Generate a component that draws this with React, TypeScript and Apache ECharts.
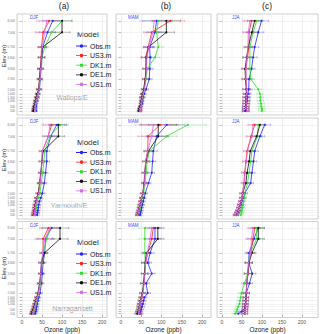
import React, { useEffect, useRef } from 'react';
import * as echarts from 'echarts';

// Elevation levels (m) of the profile points / y ticks
const levels = [8000, 7000, 5700, 4800, 3800, 2900, 2000, 1600, 1300, 1000, 750, 500, 300, 100];
const levelLabels = [8000, 7000, 5700, 4800, 3800, 2900, 2000, 1600, 1300, 1000, 500, 100];
const models = ['Obs.m', 'US3.m', 'DK1.m', 'DE1.m', 'US1.m'];
const modelColors = ['#2424ff', '#ff2020', '#2fdc2f', '#111111', '#dd66ee'];
const sites = ['Wallops/E', 'Yarmouth/E', 'Narragansett'];
const seasons = ['DJF', 'MAM', 'JJA'];
const columnTags = ['(a)', '(b)', '(c)'];

// Wallops/E
const wallopsDJF = {
  obs: [77, 64, 52, 50, 48, 46, 44, 41, 39, 37, 36, 35, 34, 35],
  us3: [68, 53, 49, 48, 46, 44, 42, 39, 37, 35, 34, 32, 31, 30],
  dk1: [100, 74, 57, 50, 47, 45, 43, 40, 38, 36, 35, 33, 32, 31],
  de1: [100, 100, 52, 49, 46, 44, 42, 38, 36, 34, 32, 30, 29, 28],
  us1: [62, 57, 51, 49, 47, 45, 43, 40, 38, 36, 34, 33, 32, 33],
  err: [25, 20, 10, 8, 7, 6, 6, 5, 5, 5, 4, 4, 4, 4],
};
const wallopsMAM = {
  obs: [88, 84, 71, 72, 71, 70, 62, 57, 55, 53, 52, 50, 48, 46],
  us3: [122, 76, 67, 61, 62, 60, 57, 54, 52, 51, 50, 48, 47, 49],
  dk1: [92, 88, 92, 84, 65, 62, 58, 55, 53, 51, 50, 49, 47, 46],
  de1: [112, 112, 68, 63, 62, 60, 56, 53, 51, 50, 49, 47, 45, 44],
  us1: [82, 79, 69, 64, 63, 61, 58, 55, 53, 51, 50, 49, 47, 47],
  err: [35, 20, 12, 12, 8, 7, 6, 5, 5, 4, 4, 4, 4, 4],
};
const wallopsJJA = {
  obs: [99, 91, 82, 78, 74, 68, 67, 65, 64, 63, 62, 61, 60, 58],
  us3: [74, 68, 68, 64, 60, 60, 62, 62, 61, 61, 60, 60, 60, 61],
  dk1: [87, 78, 70, 70, 70, 72, 91, 95, 96, 96, 98, 98, 100, 100],
  de1: [82, 75, 66, 62, 58, 59, 61, 61, 60, 60, 60, 59, 59, 60],
  us1: [70, 66, 65, 63, 60, 60, 62, 62, 61, 61, 61, 60, 60, 62],
  err: [18, 14, 10, 10, 9, 9, 9, 8, 8, 8, 8, 8, 8, 8],
};
// Yarmouth/E
const yarmouthDJF = {
  obs: [87, 72, 62, 62, 59, 56, 51, 47, 44, 42, 41, 40, 39, 38],
  us3: [74, 66, 51, 50, 48, 45, 41, 37, 35, 33, 32, 31, 30, 28],
  dk1: [95, 70, 57, 55, 52, 48, 45, 41, 38, 36, 35, 34, 33, 32],
  de1: [91, 91, 53, 50, 47, 44, 41, 37, 35, 33, 32, 31, 30, 29],
  us1: [70, 66, 51, 50, 48, 45, 42, 38, 36, 34, 33, 32, 31, 30],
  err: [20, 15, 8, 7, 6, 6, 6, 5, 5, 5, 5, 5, 5, 5],
};
const yarmouthMAM = {
  obs: [113, 88, 80, 78, 76, 68, 60, 57, 55, 53, 51, 50, 48, 47],
  us3: [96, 67, 66, 61, 59, 58, 54, 51, 49, 47, 46, 45, 43, 41],
  dk1: [165, 113, 70, 65, 62, 60, 56, 53, 51, 49, 47, 46, 44, 42],
  de1: [92, 92, 68, 62, 59, 57, 54, 51, 49, 47, 45, 44, 42, 41],
  us1: [80, 76, 66, 61, 59, 58, 54, 51, 49, 47, 46, 44, 43, 41],
  err: [45, 25, 10, 8, 7, 6, 6, 5, 5, 5, 5, 5, 5, 5],
};
const yarmouthJJA = {
  obs: [107, 95, 82, 79, 75, 72, 57, 54, 50, 47, 44, 41, 38, 35],
  us3: [82, 73, 63, 60, 57, 55, 52, 50, 48, 45, 43, 41, 38, 34],
  dk1: [91, 89, 75, 72, 68, 64, 57, 56, 54, 53, 52, 50, 49, 47],
  de1: [95, 87, 71, 68, 63, 60, 52, 50, 48, 45, 43, 41, 39, 36],
  us1: [78, 75, 64, 61, 58, 56, 52, 50, 48, 45, 43, 41, 38, 35],
  err: [15, 12, 9, 8, 8, 7, 7, 6, 6, 6, 6, 6, 6, 6],
};
// Narragansett
const narragansettDJF = {
  obs: [74, 59, 57, 53, 51, 49, 45, 42, 40, 38, 37, 36, 35, 33],
  us3: [66, 53, 53, 49, 48, 45, 41, 37, 35, 33, 31, 29, 27, 26],
  dk1: [70, 62, 53, 50, 48, 46, 42, 39, 37, 35, 33, 31, 29, 28],
  de1: [95, 95, 56, 49, 47, 44, 40, 37, 34, 32, 30, 28, 26, 24],
  us1: [70, 57, 52, 49, 47, 45, 41, 38, 36, 34, 32, 30, 28, 27],
  err: [22, 20, 8, 7, 6, 6, 6, 5, 5, 5, 5, 5, 5, 5],
};
const narragansettMAM = {
  obs: [84, 84, 72, 66, 76, 62, 66, 58, 56, 54, 52, 50, 48, 46],
  us3: [80, 76, 66, 61, 59, 57, 54, 52, 50, 48, 47, 46, 45, 49],
  dk1: [59, 59, 59, 60, 58, 56, 53, 51, 49, 47, 46, 45, 43, 42],
  de1: [91, 91, 63, 60, 58, 56, 53, 50, 48, 46, 45, 44, 42, 40],
  us1: [76, 72, 65, 61, 59, 57, 54, 51, 49, 47, 46, 45, 44, 44],
  err: [15, 15, 10, 9, 8, 8, 7, 6, 6, 6, 6, 6, 6, 6],
};
const narragansettJJA = {
  obs: [91, 80, 68, 67, 76, 69, 61, 60, 59, 59, 58, 57, 49, 41],
  us3: [82, 78, 72, 67, 66, 62, 61, 60, 60, 59, 59, 58, 58, 58],
  dk1: [87, 87, 71, 66, 64, 57, 49, 47, 45, 44, 41, 38, 37, 33],
  de1: [91, 91, 75, 68, 65, 62, 61, 60, 60, 59, 58, 58, 57, 57],
  us1: [78, 74, 72, 67, 65, 62, 61, 60, 60, 59, 59, 58, 58, 58],
  err: [15, 15, 10, 9, 9, 8, 8, 7, 7, 7, 7, 7, 7, 7],
};

const panels = [
  [wallopsDJF, wallopsMAM, wallopsJJA],
  [yarmouthDJF, yarmouthMAM, yarmouthJJA],
  [narragansettDJF, narragansettMAM, narragansettJJA],
];
const modelKeys = ['obs', 'us3', 'dk1', 'de1', 'us1'];

// layout
const colLeft = [17, 116, 217];
const colWidth = [90, 95, 101];
const colXMax = [212, 222, 240];
const xMin = -12;
const rowTop = [14, 118, 221.5];
const rowHeight = 101;
const yMin = -250;
const yMax = 8600;

const FONT = 'Liberation Sans, Arial, sans-serif';
// legend key: thin horizontal line with a dot in the middle (11 x 7 box)
const LEGEND_ICON = 'path://M0,3.1 L11,3.1 L11,3.9 L0,3.9 Z M5.5,1.7 A1.8,1.8 0 1,1 5.5,5.3 A1.8,1.8 0 1,1 5.5,1.7 Z';

function buildOption() {
  const grid: any[] = [];
  const xAxis: any[] = [];
  const yAxis: any[] = [];
  const series: any[] = [];
  const legend: any[] = [];
  const graphic: any[] = [];

  for (let r = 0; r < 3; r++) {
    for (let c = 0; c < 3; c++) {
      const gi = r * 3 + c;
      grid.push({
        left: colLeft[c], top: rowTop[r], width: colWidth[c], height: rowHeight,
        show: true, backgroundColor: '#ffffff', borderColor: '#c4c4c4', borderWidth: 0.8,
      });
      xAxis.push({
        type: 'value', gridIndex: gi, min: xMin, max: colXMax[c], splitNumber: 5,
        axisLine: { show: false },
        axisTick: { show: r === 2, length: 2, lineStyle: { color: '#777', width: 0.6 } },
        axisLabel: { show: r === 2, fontSize: 5, color: '#555', margin: 2, showMinLabel: false, showMaxLabel: false, fontFamily: FONT },
        splitLine: { show: true, lineStyle: { color: '#e2e2e2', width: 0.6 } },
        minorTick: { show: false, splitNumber: 2 },
        minorSplitLine: { show: true, lineStyle: { color: '#f1f1f1', width: 0.4 } },
        name: r === 2 ? 'Ozone (ppb)' : '', nameLocation: 'middle', nameGap: 8.5,
        nameTextStyle: { fontSize: 6.5, color: '#222', fontFamily: FONT },
      });
      yAxis.push({
        type: 'value', gridIndex: gi, min: yMin, max: yMax,
        axisLine: { show: false },
        axisTick: { show: true, length: 2, customValues: levels, lineStyle: { color: '#777', width: 0.5 } },
        axisLabel: { show: c === 0, customValues: levelLabels, fontSize: 3, color: '#777', margin: 2, fontFamily: FONT },
        splitLine: { show: true, lineStyle: { color: '#e6e6e6', width: 0.5 } },
      });
      const p: any = panels[r][c];
      const err: number[] = p.err;
      modelKeys.forEach((k, m) => {
        const vals: number[] = p[k];
        const color = modelColors[m];
        series.push({
          type: 'custom', name: models[m] + ' sd', xAxisIndex: gi, yAxisIndex: gi,
          silent: true, z: 2,
          data: vals.map((v, i) => [v - err[i], v + err[i], levels[i]]),
          encode: { x: [0, 1], y: 2 },
          renderItem: (params: any, api: any) => {
            const lo = api.coord([api.value(0), api.value(2)]);
            const hi = api.coord([api.value(1), api.value(2)]);
            const cap = 1.2;
            const st = { stroke: color, lineWidth: 0.6, opacity: 0.45 };
            return {
              type: 'group',
              children: [
                { type: 'line', shape: { x1: lo[0], y1: lo[1], x2: hi[0], y2: hi[1] }, style: st },
                { type: 'line', shape: { x1: lo[0], y1: lo[1] - cap, x2: lo[0], y2: lo[1] + cap }, style: st },
                { type: 'line', shape: { x1: hi[0], y1: hi[1] - cap, x2: hi[0], y2: hi[1] + cap }, style: st },
              ],
            };
          },
        });
      });
      modelKeys.forEach((k, m) => {
        const vals: number[] = p[k];
        const color = modelColors[m];
        series.push({
          type: 'line', name: models[m], xAxisIndex: gi, yAxisIndex: gi,
          silent: true, z: 3,
          data: vals.map((v, i) => [v, levels[i]]),
          symbol: 'circle', symbolSize: 2,
          lineStyle: { color, width: 0.8 },
          itemStyle: { color },
        });
      });
    }
  }

  const legendTop = [42.5, 149, 250.5];
  const modelTitleY = [34, 142.3, 242.7];
  const siteXY = [[72, 97], [69, 205], [72.5, 308]];
  const elevY = [56, 160, 268];
  for (let r = 0; r < 3; r++) {
    legend.push({
      data: models.map((name) => ({ name, icon: LEGEND_ICON })),
      orient: 'vertical', left: 76, top: legendTop[r],
      itemWidth: 11, itemHeight: 7, itemGap: 2.6, padding: 0, selectedMode: false,
      textStyle: { fontSize: 7, color: '#222', fontFamily: FONT, padding: [0, 0, 0, -2] },
    });
    graphic.push({
      type: 'text', x: 77, y: modelTitleY[r],
      style: { text: 'Model', fontSize: 8, fill: '#222', fontFamily: FONT, align: 'left', verticalAlign: 'middle' },
    });
    graphic.push({
      type: 'text', x: siteXY[r][0], y: siteXY[r][1],
      style: { text: sites[r], fontSize: 7, fill: '#9a9a9a', fontFamily: FONT, align: 'center', verticalAlign: 'middle' },
    });
    graphic.push({
      type: 'text', x: 4, y: elevY[r], rotation: Math.PI / 2,
      style: { text: 'Elev (m)', fontSize: 6, fill: '#222', fontFamily: FONT, align: 'center', verticalAlign: 'middle' },
    });
    for (let c = 0; c < 3; c++) {
      graphic.push({
        type: 'text', x: colLeft[c] + [13, 12, 15][c], y: rowTop[r] + 3.5,
        style: { text: seasons[c], fontSize: 4.5, fill: '#3344ff', fontFamily: FONT, align: 'left', verticalAlign: 'middle' },
      });
    }
  }
  const headerX = [64, 166, 267];
  for (let c = 0; c < 3; c++) {
    graphic.push({
      type: 'text', x: headerX[c], y: 5.5,
      style: { text: columnTags[c], fontSize: 8.5, fill: '#222', fontFamily: FONT, align: 'center', verticalAlign: 'middle' },
    });
  }

  return {
    animation: false,
    backgroundColor: '#ffffff',
    textStyle: { fontFamily: FONT },
    grid, xAxis, yAxis, series, legend, graphic,
  };
}

export default function App() {
  const ref = useRef<HTMLDivElement>(null);
  useEffect(() => {
    document.body.style.margin = '0';
    const chart = echarts.init(ref.current!, undefined, { renderer: 'svg' });
    chart.setOption(buildOption() as any);
    return () => chart.dispose();
  }, []);
  return <div ref={ref} style={{ width: 320, height: 334, position: 'absolute', left: 0, top: 0 }} />;
}
